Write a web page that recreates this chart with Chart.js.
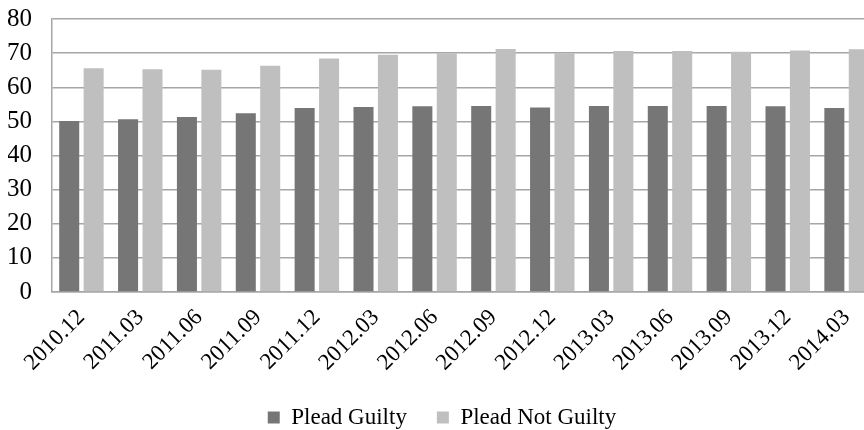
<!DOCTYPE html>
<html>
<head>
<meta charset="utf-8">
<script src="https://cdn.jsdelivr.net/npm/chart.js@4.4.1/dist/chart.umd.min.js"></script>
<style>
  html, body { margin: 0; padding: 0; background: #fff; overflow: hidden; }
  #wrap { position: relative; width: 876px; height: 430px; }
</style>
</head>
<body>
<div id="wrap"><canvas id="js-chartjs-pleas"></canvas></div>
<script>
// Quarterly series
const quarters = [
  "2010.12", "2011.03", "2011.06", "2011.09", "2011.12", "2012.03", "2012.06",
  "2012.09", "2012.12", "2013.03", "2013.06", "2013.09", "2013.12", "2014.03"
];
const pleadGuilty = [50.1, 50.6, 51.3, 52.4, 53.9, 54.2, 54.4, 54.5, 54.1, 54.5, 54.5, 54.5, 54.4, 53.9];
const pleadNotGuilty = [65.6, 65.3, 65.1, 66.3, 68.4, 69.5, 70.0, 71.2, 70.0, 70.6, 70.6, 70.4, 70.8, 71.1];
const yTicks = [0, 10, 20, 30, 40, 50, 60, 70, 80];

const serif = "'Liberation Serif', 'Times New Roman', serif";
const gridGray = "#a6a6a6";

Chart.defaults.font.family = serif;
Chart.defaults.color = "#000";

const chartPleasCon = document.getElementById("js-chartjs-pleas");

new Chart(chartPleasCon, {
  type: "bar",
  data: {
    labels: quarters,
    datasets: [
      {
        label: "Plead Guilty",
        backgroundColor: "#767676",
        borderWidth: 0,
        data: pleadGuilty,
      },
      {
        label: "Plead Not Guilty",
        backgroundColor: "#bfbfbf",
        borderWidth: 0,
        data: pleadNotGuilty,
      },
    ],
  },
  options: {
    responsive: true,
    maintainAspectRatio: false,
    animation: false,
    categoryPercentage: 0.83,
    barPercentage: 0.82,
    layout: {
      padding: { left: 8, top: 0, right: 0, bottom: -9 },
    },
    scales: {
      x: {
        grid: { display: false, drawTicks: false },
        border: { display: true, color: gridGray, width: 1.5 },
        ticks: {
          maxRotation: 45,
          minRotation: 45,
          autoSkip: false,
          padding: 12,
          font: { size: 23 },
          color: "#000",
        },
        // rotated labels may hang past the plot edges; keep the axis box compact
        afterFit: (scale) => {
          scale.paddingLeft = 0;
          scale.paddingRight = 0;
          scale.height = 84;
        },
      },
      y: {
        min: 0,
        max: 80,
        afterBuildTicks: (axis) => {
          axis.ticks = yTicks.map((v) => ({ value: v }));
        },
        grid: { color: gridGray, lineWidth: 1.5, drawTicks: false },
        border: { display: true, color: gridGray, width: 1.5 },
        ticks: {
          autoSkip: false,
          padding: 20,
          font: { size: 25 },
          color: "#000",
        },
        // fixed axis width and head room above the top gridline
        afterFit: (scale) => {
          scale.width = 44;
          scale.paddingTop = 19;
          scale.paddingBottom = 0;
        },
      },
    },
    plugins: {
      legend: {
        position: "bottom",
        labels: {
          boxWidth: 12,
          boxHeight: 12,
          padding: 30,
          font: { size: 23 },
          color: "#000",
        },
      },
      tooltip: { enabled: false },
    },
  },
});
</script>
</body>
</html>
